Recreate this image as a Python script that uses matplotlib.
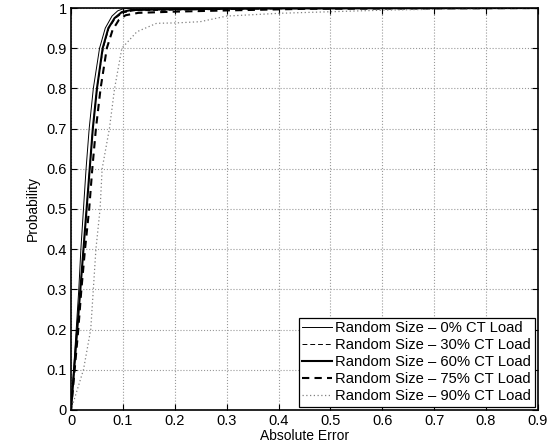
import matplotlib.pyplot as plt
import numpy as np

plt.rcParams['font.family'] = ['Liberation Sans', 'DejaVu Sans']

# CDF curves (absolute error, probability)
x_0 = [0, 0.005, 0.010, 0.015, 0.019, 0.024, 0.029, 0.035, 0.043, 0.055, 0.066, 0.079, 0.090, 0.100, 0.120, 0.9]
p_0 = [0, 0.10, 0.20, 0.30, 0.40, 0.50, 0.60, 0.70, 0.80, 0.90, 0.95, 0.98, 0.993, 0.998, 1.0, 1.0]

x_30 = [0, 0.006, 0.012, 0.018, 0.024, 0.030, 0.036, 0.042, 0.050, 0.062, 0.073, 0.086, 0.100, 0.120, 0.200, 0.400, 0.9]
p_30 = [0, 0.10, 0.20, 0.30, 0.40, 0.50, 0.60, 0.70, 0.80, 0.90, 0.95, 0.975, 0.988, 0.993, 0.995, 0.998, 1.0]

x_60 = [0, 0.006, 0.012, 0.018, 0.024, 0.030, 0.036, 0.042, 0.050, 0.061, 0.072, 0.084, 0.098, 0.115, 0.200, 0.400, 0.9]
p_60 = [0, 0.10, 0.20, 0.30, 0.40, 0.50, 0.60, 0.70, 0.80, 0.90, 0.95, 0.975, 0.99, 0.995, 0.997, 0.999, 1.0]

x_75 = [0, 0.007, 0.014, 0.020, 0.027, 0.035, 0.041, 0.048, 0.057, 0.069, 0.080, 0.092, 0.105, 0.130, 0.200, 0.300, 0.450, 0.9]
p_75 = [0, 0.10, 0.20, 0.30, 0.40, 0.50, 0.60, 0.70, 0.80, 0.90, 0.945, 0.97, 0.982, 0.988, 0.991, 0.994, 0.998, 1.0]

x_90 = [0, 0.012, 0.024, 0.038, 0.043, 0.048, 0.056, 0.060, 0.074, 0.084, 0.098, 0.127, 0.165, 0.204, 0.249, 0.300, 0.404, 0.506, 0.610, 0.800, 0.9]
p_90 = [0, 0.05, 0.10, 0.20, 0.30, 0.40, 0.50, 0.60, 0.70, 0.80, 0.90, 0.941, 0.962, 0.963, 0.966, 0.980, 0.987, 0.991, 0.995, 0.999, 1.0]

labels = ['Random Size \u2013 0% CT Load', 'Random Size \u2013 30% CT Load',
          'Random Size \u2013 60% CT Load', 'Random Size \u2013 75% CT Load',
          'Random Size \u2013 90% CT Load']

fig = plt.figure(figsize=(5.48, 4.46), dpi=100)
ax = fig.add_axes([0.1296, 0.081, 0.852, 0.901])

ax.plot(x_0, p_0, color='black', lw=0.7, ls='-', label=labels[0])
ax.plot(x_30, p_30, color='black', lw=0.7, ls=(0, (5, 3)), label=labels[1])
ax.plot(x_60, p_60, color='black', lw=1.5, ls='-', label=labels[2])
ax.plot(x_75, p_75, color='black', lw=1.5, ls=(0, (3.5, 2.5)), label=labels[3])
ax.plot(x_90, p_90, color='#808080', lw=0.9, ls=(0, (1, 2)), label=labels[4])

ax.set_xlim(0, 0.9)
ax.set_ylim(0, 1)
ax.set_xticks(np.arange(0, 0.91, 0.1))
ax.set_yticks(np.arange(0, 1.01, 0.1))
ax.set_xticklabels(['0', '0.1', '0.2', '0.3', '0.4', '0.5', '0.6', '0.7', '0.8', '0.9'])
ax.set_yticklabels(['0', '0.1', '0.2', '0.3', '0.4', '0.5', '0.6', '0.7', '0.8', '0.9', '1'])
ax.tick_params(direction='in', top=True, right=True, length=4, width=0.8, labelsize=10.5, pad=3)
ax.grid(True, ls=':', color='#999999', lw=0.8)
for s in ax.spines.values():
    s.set_linewidth(1.2)

ax.set_xlabel('Absolute Error', fontsize=10, labelpad=1)
ax.set_ylabel('Probability', fontsize=10, labelpad=5)

leg = ax.legend(loc='lower right', fontsize=10.6, fancybox=False, framealpha=1,
                edgecolor='black', borderpad=0.25, labelspacing=0.2,
                handlelength=2.0, handletextpad=0.25, borderaxespad=0.2)
leg.get_frame().set_linewidth(0.9)

plt.savefig('out.png', dpi=100)
